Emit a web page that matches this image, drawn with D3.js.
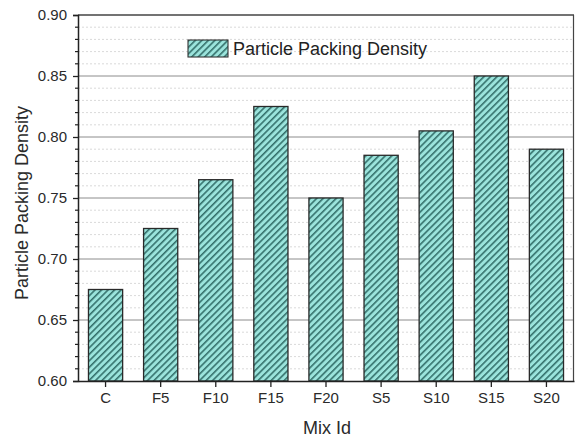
<!DOCTYPE html>
<html>
<head>
<meta charset="utf-8">
<script src="https://cdn.jsdelivr.net/npm/d3@7"></script>
<style>
  html, body { margin: 0; padding: 0; background: #fff; }
  svg { display: block; font-family: "Liberation Sans", Arial, sans-serif; }
</style>
</head>
<body>
<svg id="chart" width="575" height="438"></svg>
<script>
// Packing density per mix
const mixIds = ["C", "F5", "F10", "F15", "F20", "S5", "S10", "S15", "S20"];
const packingDensity = [0.675, 0.725, 0.765, 0.825, 0.75, 0.785, 0.805, 0.85, 0.79];
const yTickValues = [0.60, 0.65, 0.70, 0.75, 0.80, 0.85, 0.90];
const seriesName = "Particle Packing Density";

const svg = d3.select("#chart");
const margin = { left: 78, right: 1, top: 15, bottom: 57 };
const W = 575, H = 438;
const x0 = margin.left, x1 = W - margin.right, y0 = H - margin.bottom, y1 = margin.top;

const x = d3.scaleBand().domain(mixIds).range([x0, x1]).paddingInner(0.38).paddingOuter(0.19);
const y = d3.scaleLinear().domain([0.60, 0.90]).range([y0, y1]);

// Hatch pattern for bars
const defs = svg.append("defs");
const pat = defs.append("pattern")
  .attr("id", "hatch").attr("patternUnits", "userSpaceOnUse")
  .attr("width", 4.6).attr("height", 4.6)
  .attr("patternTransform", "rotate(45)");
pat.append("rect").attr("width", 4.6).attr("height", 4.6).attr("fill", "#9be4dc");
pat.append("line").attr("x1", 0.8).attr("y1", 0).attr("x2", 0.8).attr("y2", 4.6)
  .attr("stroke", "#2e6a65").attr("stroke-width", 1.5);

// Minor dotted grid
const minor = d3.range(0.61, 0.90, 0.01).filter(v => Math.abs(v * 100 % 5) > 0.5 && Math.abs(v * 100 % 5 - 5) > 0.5);
svg.append("g").selectAll("line").data(minor).join("line")
  .attr("x1", x0).attr("x2", x1)
  .attr("y1", d => y(d)).attr("y2", d => y(d))
  .attr("stroke", "#cfcfcf").attr("stroke-width", 0.8).attr("stroke-dasharray", "2,2");

// Major grid
svg.append("g").selectAll("line").data(yTickValues.filter(v => v > 0.6 && v < 0.9)).join("line")
  .attr("x1", x0).attr("x2", x1)
  .attr("y1", d => y(d)).attr("y2", d => y(d))
  .attr("stroke", "#8c8c8c").attr("stroke-width", 1);

// Bars
svg.append("g").selectAll("rect").data(mixIds).join("rect")
  .attr("x", d => x(d)).attr("width", x.bandwidth())
  .attr("y", (d, i) => y(packingDensity[i]))
  .attr("height", (d, i) => y(0.60) - y(packingDensity[i]))
  .attr("fill", "url(#hatch)").attr("stroke", "#2a2a2a").attr("stroke-width", 1.3);

// Frame: top and right
svg.append("line").attr("x1", x0).attr("x2", x1).attr("y1", y1).attr("y2", y1)
  .attr("stroke", "#444").attr("stroke-width", 1.5);
svg.append("line").attr("x1", x1 - 0.5).attr("x2", x1 - 0.5).attr("y1", y1).attr("y2", y0)
  .attr("stroke", "#444").attr("stroke-width", 1.2);

// Y axis
const yAxis = svg.append("g").attr("transform", `translate(${x0},0)`)
  .call(d3.axisLeft(y).tickValues(yTickValues).tickFormat(d3.format(".2f")).tickSize(5).tickPadding(6));
yAxis.select(".domain").attr("stroke", "#222").attr("stroke-width", 1.5);
yAxis.selectAll(".tick line").attr("stroke", "#222").attr("stroke-width", 1.3);
yAxis.selectAll("text").attr("font-size", 15).attr("fill", "#2a2a2a")
  .attr("font-family", "Liberation Sans, Arial, sans-serif");
// Minor y ticks
svg.append("g").selectAll("line").data(minor).join("line")
  .attr("x1", x0 - 3).attr("x2", x0)
  .attr("y1", d => y(d)).attr("y2", d => y(d))
  .attr("stroke", "#222").attr("stroke-width", 1.2);

// X axis
const xAxis = svg.append("g").attr("transform", `translate(0,${y0})`)
  .call(d3.axisBottom(x).tickSize(6).tickSizeOuter(0).tickPadding(5));
xAxis.select(".domain").attr("stroke", "#222").attr("stroke-width", 1.5);
xAxis.selectAll(".tick line").attr("stroke", "#222").attr("stroke-width", 1.3);
xAxis.selectAll("text").attr("font-size", 15).attr("fill", "#2a2a2a")
  .attr("font-family", "Liberation Sans, Arial, sans-serif");

// Axis titles
svg.append("text").attr("x", 327).attr("y", 434).attr("text-anchor", "middle")
  .attr("font-size", 18).attr("fill", "#2a2a2a").text("Mix Id");
svg.append("text").attr("transform", "translate(28,203) rotate(-90)").attr("text-anchor", "middle")
  .attr("font-size", 18).attr("fill", "#2a2a2a").text(seriesName);

// Legend
const lg = svg.append("g").attr("transform", "translate(188,40)");
lg.append("rect").attr("width", 40).attr("height", 17)
  .attr("fill", "url(#hatch)").attr("stroke", "#333").attr("stroke-width", 1.1);
lg.append("text").attr("x", 45).attr("y", 15).attr("font-size", 18).attr("fill", "#222").text(seriesName);
</script>
</body>
</html>
